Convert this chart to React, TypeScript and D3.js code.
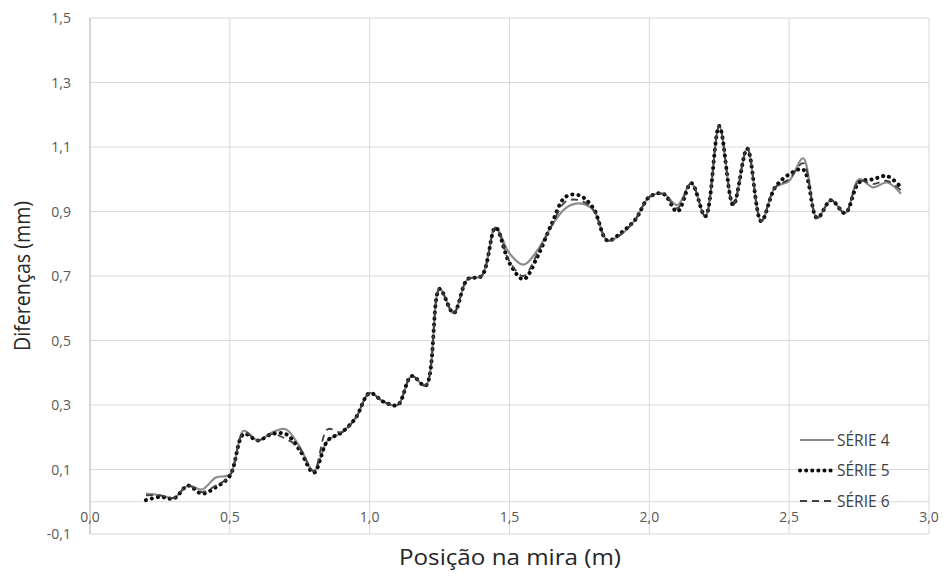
import React from 'react'
import * as d3 from 'd3'

// posições na mira (m)
const posicoes = [
  0.2, 0.25, 0.3, 0.35, 0.4, 0.45, 0.5, 0.55, 0.6, 0.65, 0.7, 0.75, 0.8, 0.85,
  0.9, 0.95, 1.0, 1.05, 1.1, 1.15, 1.2, 1.25, 1.3, 1.35, 1.4, 1.45, 1.5, 1.55,
  1.6, 1.65, 1.7, 1.75, 1.8, 1.85, 1.9, 1.95, 2.0, 2.05, 2.1, 2.15, 2.2, 2.25,
  2.3, 2.35, 2.4, 2.45, 2.5, 2.55, 2.6, 2.65, 2.7, 2.75, 2.8, 2.85, 2.9,
]

const serie4 = [
  0.025, 0.02, 0.012, 0.05, 0.038, 0.075, 0.085, 0.22, 0.19, 0.215, 0.225, 0.17, 0.095, 0.19,
  0.215, 0.26, 0.337, 0.31, 0.3, 0.39, 0.36, 0.66, 0.585, 0.69, 0.7, 0.85, 0.77, 0.735,
  0.78, 0.855, 0.91, 0.925, 0.905, 0.81, 0.83, 0.875, 0.945, 0.955, 0.92, 0.988, 0.885, 1.165,
  0.92, 1.095, 0.87, 0.975, 0.995, 1.065, 0.88, 0.935, 0.895, 1.0, 0.975, 0.99, 0.955,
]

const serie5 = [
  0.005, 0.015, 0.01, 0.05, 0.025, 0.045, 0.08, 0.21, 0.19, 0.21, 0.21, 0.16, 0.09, 0.19,
  0.215, 0.26, 0.337, 0.31, 0.3, 0.39, 0.36, 0.66, 0.585, 0.69, 0.7, 0.85, 0.74, 0.69,
  0.76, 0.86, 0.945, 0.95, 0.91, 0.81, 0.835, 0.875, 0.945, 0.955, 0.9, 0.988, 0.885, 1.165,
  0.92, 1.095, 0.87, 0.975, 1.015, 1.03, 0.88, 0.935, 0.895, 0.99, 1.0, 1.01, 0.975,
]

const serie6 = [
  0.02, 0.02, 0.012, 0.05, 0.03, 0.05, 0.08, 0.215, 0.19, 0.21, 0.195, 0.165, 0.095, 0.225,
  0.215, 0.26, 0.337, 0.31, 0.3, 0.39, 0.36, 0.66, 0.585, 0.69, 0.7, 0.85, 0.745, 0.7,
  0.77, 0.855, 0.93, 0.935, 0.905, 0.81, 0.83, 0.875, 0.945, 0.955, 0.91, 0.988, 0.885, 1.165,
  0.92, 1.095, 0.87, 0.975, 1.0, 1.05, 0.88, 0.935, 0.895, 0.995, 0.985, 0.995, 0.965,
]

const xTicks = [0, 0.5, 1.0, 1.5, 2.0, 2.5, 3.0]
const yTicks = [-0.1, 0.1, 0.3, 0.5, 0.7, 0.9, 1.1, 1.3, 1.5]
const nomes = ['SÉRIE 4', 'SÉRIE 5', 'SÉRIE 6']

const fmt = (v: number) => v.toFixed(1).replace('.', ',')

const App = () => {
  const width = 943
  const height = 576
  const x = d3.scaleLinear().domain([0, 3]).range([90, 929])
  const y = d3.scaleLinear().domain([-0.1, 1.5]).range([534, 18])

  const linha = (vals: number[]) =>
    d3
      .line<number>()
      .x((_, i) => x(posicoes[i]))
      .y((d) => y(d))
      .curve(d3.curveCatmullRom.alpha(0.5))(vals) || ''

  const estilos = [
    { stroke: '#8c8c8c', width: 2.2, dash: undefined as string | undefined, cap: 'butt' },
    { stroke: '#0d0d0d', width: 4, dash: '0.1 6', cap: 'round' },
    { stroke: '#404040', width: 1.8, dash: '7 5', cap: 'butt' },
  ]
  const series = [serie4, serie5, serie6]
  const font = "'Open Sans', 'Liberation Sans', sans-serif"

  return (
    <svg width={width} height={height} style={{ position: 'absolute', left: 0, top: 0, background: '#fff' }}>
      <rect width={width} height={height} fill="#fff" />
      {/* grade horizontal */}
      {[-0.1, 0, 0.1, 0.3, 0.5, 0.7, 0.9, 1.1, 1.3, 1.5].map((t) => (
        <line key={'h' + t} x1={x(0)} x2={x(3)} y1={y(t)} y2={y(t)} stroke="#d9d9d9" strokeWidth={1} />
      ))}
      {/* grade vertical */}
      {xTicks.map((t) => (
        <line key={'v' + t} x1={x(t)} x2={x(t)} y1={y(1.5)} y2={y(-0.1)} stroke="#d9d9d9" strokeWidth={1} />
      ))}
      <line x1={x(0)} x2={x(0)} y1={y(1.5)} y2={y(-0.1)} stroke="#bfbfbf" strokeWidth={1} />

      {series.map((s, i) => (
        <path
          key={i}
          d={linha(s)}
          fill="none"
          stroke={estilos[i].stroke}
          strokeWidth={estilos[i].width}
          strokeDasharray={estilos[i].dash}
          strokeLinecap={estilos[i].cap as any}
        />
      ))}

      {/* rótulos */}
      {yTicks.map((t) => (
        <text key={'yl' + t} x={71} y={y(t) + 5} textAnchor="end" fontSize={14} fill="#595959" fontFamily={font}>
          {fmt(t)}
        </text>
      ))}
      {xTicks.map((t) => (
        <text key={'xl' + t} x={x(t)} y={y(-0.05) + 4} textAnchor="middle" fontSize={14} fill="#595959" fontFamily={font}>
          {fmt(t)}
        </text>
      ))}

      <text
        x={510}
        y={565}
        textAnchor="middle"
        fontSize={21}
        textLength={222}
        lengthAdjust="spacingAndGlyphs"
        fill="#262626"
        fontFamily={font}
      >
        Posição na mira (m)
      </text>
      <text
        transform={`translate(30, ${y(0.7)}) rotate(-90)`}
        textAnchor="middle"
        fontSize={21}
        textLength={150}
        lengthAdjust="spacingAndGlyphs"
        fill="#262626"
        fontFamily={font}
      >
        Diferenças (mm)
      </text>

      {/* legenda */}
      {nomes.map((n, i) => {
        const ly = 440 + i * 30.5
        return (
          <g key={n}>
            <line
              x1={800}
              x2={834}
              y1={ly}
              y2={ly}
              stroke={estilos[i].stroke}
              strokeWidth={estilos[i].width}
              strokeDasharray={estilos[i].dash}
              strokeLinecap={estilos[i].cap as any}
            />
            <text x={837} y={ly + 5.5} fontSize={15.5} fill="#404040" fontFamily={font}>
              {n}
            </text>
          </g>
        )
      })}
    </svg>
  )
}

export default App
